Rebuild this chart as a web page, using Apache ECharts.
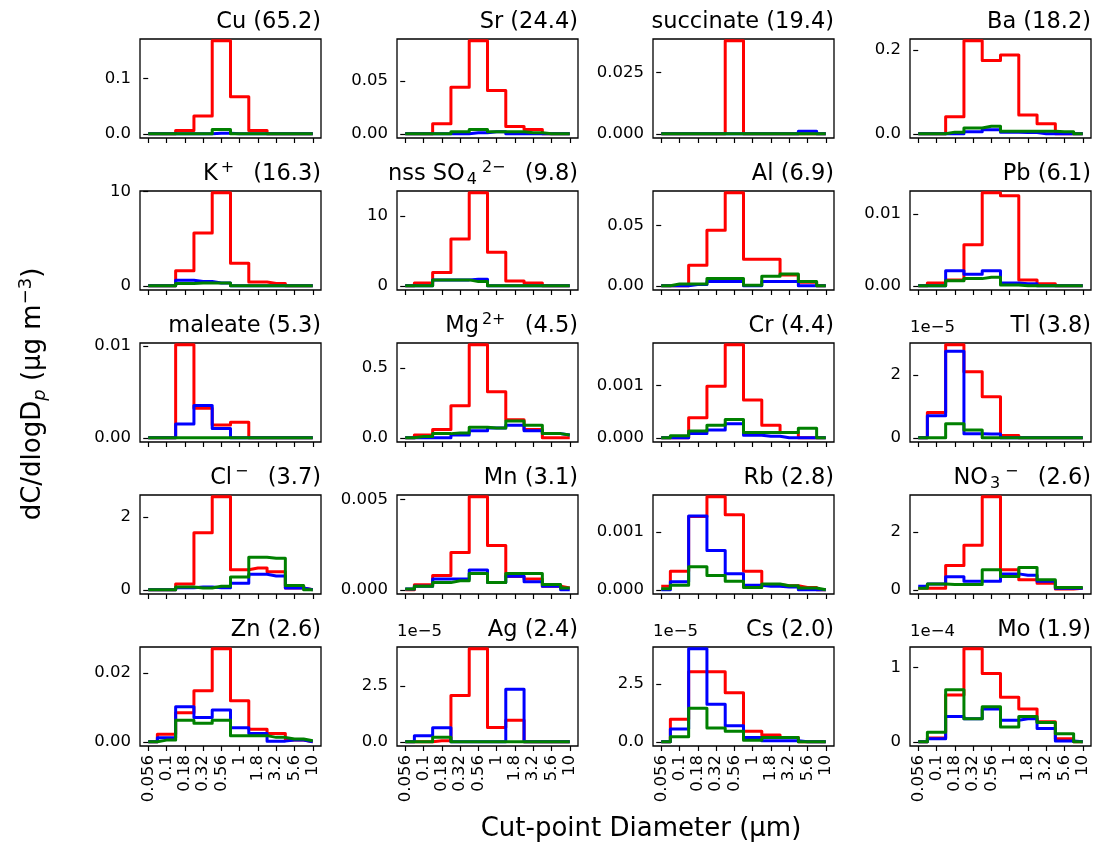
<!DOCTYPE html>
<html><head><meta charset="utf-8">
<script src="https://cdn.jsdelivr.net/npm/echarts@6/dist/echarts.min.js"></script>
<style>html,body{margin:0;padding:0;background:#fff}#c{width:1094px;height:848px}</style>
</head><body><div id="c"></div>
<script>
// ---------------- data ----------------
const xTickLabels = ['0.056','0.1','0.18','0.32','0.56','1','1.8','3.2','5.6','10'];

const titles = [
  'Cu (65.2)', 'Sr (24.4)', 'succinate (19.4)', 'Ba (18.2)',
  'K{sup|+} (16.3)', 'nss SO{sub|4}{sup|2\u2212} (9.8)', 'Al (6.9)', 'Pb (6.1)',
  'maleate (5.3)', 'Mg{sup|2+} (4.5)', 'Cr (4.4)', 'Tl (3.8)',
  'Cl{sup|\u2212} (3.7)', 'Mn (3.1)', 'Rb (2.8)', 'NO{sub|3}{sup|\u2212} (2.6)',
  'Zn (2.6)', 'Ag (2.4)', 'Cs (2.0)', 'Mo (1.9)'
];

const yTickLabels = [
  ['0.0','0.1'], ['0.00','0.05'], ['0.000','0.025'], ['0.0','0.2'],
  ['0','10'], ['0','10'], ['0.00','0.05'], ['0.00','0.01'],
  ['0.00','0.01'], ['0.0','0.5'], ['0.000','0.001'], ['0','2'],
  ['0','2'], ['0.000','0.005'], ['0.000','0.001'], ['0','2'],
  ['0.00','0.02'], ['0.0','2.5'], ['0.0','2.5'], ['0','1']
];

const offsetLabels = ['', '', '', '', '', '', '', '', '', '', '', '1e\u22125',
  '', '', '', '', '', '1e\u22125', '1e\u22125', '1e\u22124'];

const red = [
  [0, 0, 0.006, 0.032, 0.168, 0.067, 0.006, 0, 0, 0],
  [0, 0, 0.0095, 0.044, 0.088, 0.041, 0.007, 0.004, 0, 0],
  [0, 0, 0, 0, 0.038, 0, 0, 0, 0, 0],
  [0, 0, 0.041, 0.222, 0.175, 0.188, 0.045, 0.024, 0, 0],
  [0, 0, 1.6, 5.6, 9.85, 2.4, 0.4, 0.25, 0, 0],
  [0, 0.4, 1.9, 6.7, 13.3, 4.8, 0.7, 0.4, 0, 0],
  [0, 0, 0.017, 0.046, 0.077, 0.022, 0.022, 0.009, 0.003, 0],
  [0, 0.0004, 0.0008, 0.0057, 0.0129, 0.0125, 0.0008, 0.0003, 0, 0],
  [0, 0, 0.0101, 0.0032, 0.0014, 0.0017, 0, 0, 0, 0],
  [0, 0.02, 0.06, 0.23, 0.665, 0.33, 0.13, 0.06, 0, 0],
  [0, 0, 0.00038, 0.00098, 0.00177, 0.00072, 0.00024, 0.0001, 0, 0],
  [0, 0.8, 2.95, 2.1, 1.3, 0.07, 0, 0, 0, 0],
  [0, 0, 0.16, 1.57, 2.56, 0.55, 0.6, 0.5, 0.05, 0],
  [0, 0.00028, 0.0008, 0.00207, 0.00515, 0.00246, 0.00074, 0.0006, 0.0002, 0.0001],
  [0.00006, 0.00032, 0.00127, 0.00161, 0.0013, 0.00032, 0.00009, 0.00007, 0.00004, 0],
  [0.05, 0.05, 0.84, 1.54, 3.21, 0.69, 0.35, 0.23, 0.03, 0.05],
  [0, 0.0022, 0.0085, 0.0149, 0.0271, 0.012, 0.0037, 0.0024, 0.0005, 0],
  [0, 0, 0.05, 2.07, 4.16, 0.64, 0.97, 0, 0, 0],
  [0, 0.98, 3.03, 3.03, 2.12, 0.46, 0.29, 0.19, 0, 0],
  [0, 0.05, 0.63, 1.25, 0.92, 0.6, 0.44, 0.27, 0.04, 0]
];

const blue = [
  [0, 0, 0, 0, 0.001, 0, 0, 0, 0, 0],
  [0, 0, 0, 0, 0.001, 0.002, 0, 0, 0, 0],
  [0, 0, 0, 0, 0, 0, 0, 0, 0.001, 0],
  [0, 0, 0, 0.005, 0.01, 0.004, 0.003, 0, 0, 0],
  [0, 0, 0.6, 0.45, 0.3, 0, 0, 0, 0, 0],
  [0, 0, 0.85, 0.85, 0.95, 0, 0, 0, 0, 0],
  [0, 0, 0.001, 0.0035, 0.0035, 0, 0.0035, 0.0035, 0, 0],
  [0, 0, 0.0021, 0.0016, 0.0021, 0.0004, 0.0003, 0, 0, 0],
  [0, 0, 0.0015, 0.0035, 0.001, 0, 0, 0, 0, 0],
  [0, 0, 0, 0.02, 0.05, 0.07, 0.09, 0.05, 0.03, 0.02],
  [0, 0, 0.00008, 0.00015, 0.00027, 0.00005, 0.00003, 0, 0, 0],
  [0, 0.7, 2.75, 0.13, 0.12, 0, 0, 0, 0, 0],
  [0, 0, 0.06, 0.08, 0.06, 0.18, 0.43, 0.38, 0.05, 0],
  [0.00005, 0.0002, 0.0006, 0.0006, 0.0011, 0.0004, 0.00075, 0.00045, 0.0002, 0],
  [0, 0.00014, 0.00128, 0.00068, 0.00028, 0.00008, 0.00006, 0.00005, 0, 0],
  [0.12, 0.2, 0.45, 0.3, 0.3, 0.55, 0.5, 0.3, 0.05, 0.05],
  [0, 0.0012, 0.0102, 0.0071, 0.0093, 0.0041, 0.0024, 0.0002, 0.0005, 0],
  [0, 0.27, 0.63, 0, 0, 0, 2.35, 0, 0, 0],
  [0, 0.55, 4.02, 1.62, 0.69, 0.19, 0.05, 0.05, 0, 0],
  [0, 0.04, 0.34, 0.31, 0.44, 0.29, 0.31, 0.18, 0.01, 0]
];

const green = [
  [0, 0, 0, 0, 0.008, 0, 0, 0, 0, 0],
  [0, 0, 0, 0.002, 0.004, 0.002, 0.002, 0.001, 0, 0],
  [0, 0, 0, 0, 0, 0, 0, 0, 0, 0],
  [0, 0, 0.004, 0.014, 0.018, 0.006, 0.006, 0.006, 0.005, 0],
  [0, 0, 0.25, 0.3, 0.3, 0, 0, 0, 0, 0],
  [0, 0, 0.85, 0.85, 0.6, 0, 0, 0, 0, 0],
  [0, 0.0015, 0.0015, 0.006, 0.006, 0.0005, 0.008, 0.0097, 0.0035, 0],
  [0, 0, 0.0007, 0.001, 0.0012, 0.0001, 0, 0, 0, 0],
  [0, 0, 0, 0, 0, 0, 0, 0, 0, 0],
  [0, 0.01, 0.03, 0.035, 0.075, 0.07, 0.12, 0.09, 0.03, 0.02],
  [0, 0.00004, 0.00013, 0.00024, 0.00035, 0.0001, 0.0001, 0.0001, 0.00018, 0],
  [0, 0, 0.45, 0.25, 0, 0, 0, 0, 0, 0],
  [0, 0, 0.08, 0.05, 0.1, 0.35, 0.9, 0.87, 0.12, 0],
  [0.00005, 0.0002, 0.0004, 0.0005, 0.0009, 0.0004, 0.0009, 0.0009, 0.0003, 0.0001],
  [0.00002, 0.00008, 0.0004, 0.00025, 0.00015, 0.00004, 0.0001, 0.00007, 0.00003, 0],
  [0.05, 0.2, 0.18, 0.18, 0.69, 0.46, 0.77, 0.35, 0.08, 0.08],
  [0, 0.0005, 0.0063, 0.0054, 0.0063, 0.0018, 0.0018, 0.0013, 0.0008, 0.0003],
  [0, 0, 0.2, 0, 0, 0, 0, 0, 0, 0],
  [0, 0.22, 1.45, 0.6, 0.46, 0.07, 0.19, 0.19, 0, 0],
  [0, 0.13, 0.7, 0.31, 0.47, 0.2, 0.34, 0.26, 0.11, 0]
];

const seriesColors = ['#ff0000', '#0000ff', '#008000'];

// ---------------- layout ----------------
const FONT = 'DejaVu Sans';
const W = 1094;
const colLeft = [140, 397, 653, 910], boxW = 181;
const rowTop = [39, 191, 343, 495, 647], boxH = 99;
const TICK_FS = 16.5, TITLE_FS = 22.5, LABEL_FS = 26;

const chart = echarts.init(document.getElementById('c'), null, {renderer: 'canvas'});
const grids = [], xAxes = [], yAxes = [], series = [], titleOpts = [], graphics = [];
const xIdx = xTickLabels.map((_, k) => k);
const tickLine = {color: '#000', width: 1.2};

const richT = {
  sup: {fontSize: 16, fontFamily: FONT, color: '#000', verticalAlign: 'top', lineHeight: 15, padding: [0, 12, 0, 3]},
  sub: {fontSize: 16, fontFamily: FONT, color: '#000', verticalAlign: 'bottom', lineHeight: 15, padding: [0, 2, 0, 2]}
};

for (let i = 0; i < titles.length; i++) {
  const r = Math.floor(i / 4), c = i % 4;
  const L = colLeft[c], T = rowTop[r];
  grids.push({left: L, top: T, width: boxW, height: boxH, show: true,
    borderColor: '#000', borderWidth: 1.3, backgroundColor: 'rgba(0,0,0,0)'});
  const M = Math.max(...red[i], ...blue[i], ...green[i]);
  const yt = yTickLabels[i].map(Number);
  xAxes.push({
    gridIndex: i, type: 'value', min: -0.45, max: 9.45,
    axisLine: {show: false, onZero: false}, splitLine: {show: false},
    axisTick: {show: true, customValues: xIdx, length: 5, lineStyle: tickLine},
    axisLabel: {show: r === 4, customValues: xIdx, rotate: 90, margin: 9,
      formatter: v => xTickLabels[Math.round(v)],
      fontSize: TICK_FS, fontFamily: FONT, color: '#000'}
  });
  yAxes.push({
    gridIndex: i, type: 'value', min: -0.045 * M, max: 1.02 * M,
    axisLine: {show: false}, splitLine: {show: false},
    axisTick: {show: true, customValues: yt, length: 5, lineStyle: tickLine},
    axisLabel: {customValues: yt, margin: 9,
      formatter: v => {
        let best = 0;
        yt.forEach((t, k) => { if (Math.abs(t - v) < Math.abs(yt[best] - v)) best = k; });
        return yTickLabels[i][best];
      },
      fontSize: TICK_FS, fontFamily: FONT, color: '#000'}
  });
  [red, blue, green].forEach((arr, s) => {
    series.push({
      type: 'line', xAxisIndex: i, yAxisIndex: i, step: 'middle',
      data: arr[i].map((v, k) => [k, v]),
      symbol: 'none', showSymbol: false,
      lineStyle: {color: seriesColors[s], width: 3, join: 'round'},
      itemStyle: {color: seriesColors[s]},
      z: 2 + s, animation: false, silent: true
    });
  });
  titleOpts.push({
    text: titles[i], right: W - (L + boxW), top: T - 31, padding: 0,
    textStyle: {fontSize: TITLE_FS, fontFamily: FONT, fontWeight: 'normal', color: '#000',
      lineHeight: 28, rich: richT}
  });
  if (offsetLabels[i]) {
    graphics.push({type: 'text', x: L, y: T - 7,
      style: {text: offsetLabels[i], fontSize: TICK_FS, fontFamily: FONT, fill: '#000',
        align: 'left', verticalAlign: 'bottom', textAlign: 'left', textVerticalAlign: 'bottom'}});
  }
}

graphics.push({type: 'text', x: 641, y: 829,
  style: {text: 'Cut-point Diameter (\u00b5m)', fontSize: LABEL_FS, fontFamily: FONT, fill: '#000',
    align: 'center', verticalAlign: 'middle', textAlign: 'center', textVerticalAlign: 'middle'}});

graphics.push({type: 'text', x: 33, y: 394, rotation: Math.PI / 2,
  style: {text: 'dC/dlogD{sub|p} (\u00b5g m{sup|\u22123})', fontSize: LABEL_FS, fontFamily: FONT, fill: '#000',
    align: 'center', verticalAlign: 'middle', textAlign: 'center', textVerticalAlign: 'middle',
    lineHeight: 32,
    rich: {
      sub: {fontSize: 18, fontFamily: FONT, fontStyle: 'italic', fill: '#000', verticalAlign: 'bottom', lineHeight: 18},
      sup: {fontSize: 18, fontFamily: FONT, fill: '#000', verticalAlign: 'top', lineHeight: 18}
    }}});

chart.setOption({
  animation: false,
  backgroundColor: '#fff',
  title: titleOpts,
  grid: grids, xAxis: xAxes, yAxis: yAxes, series: series,
  graphic: graphics
});
</script></body></html>
